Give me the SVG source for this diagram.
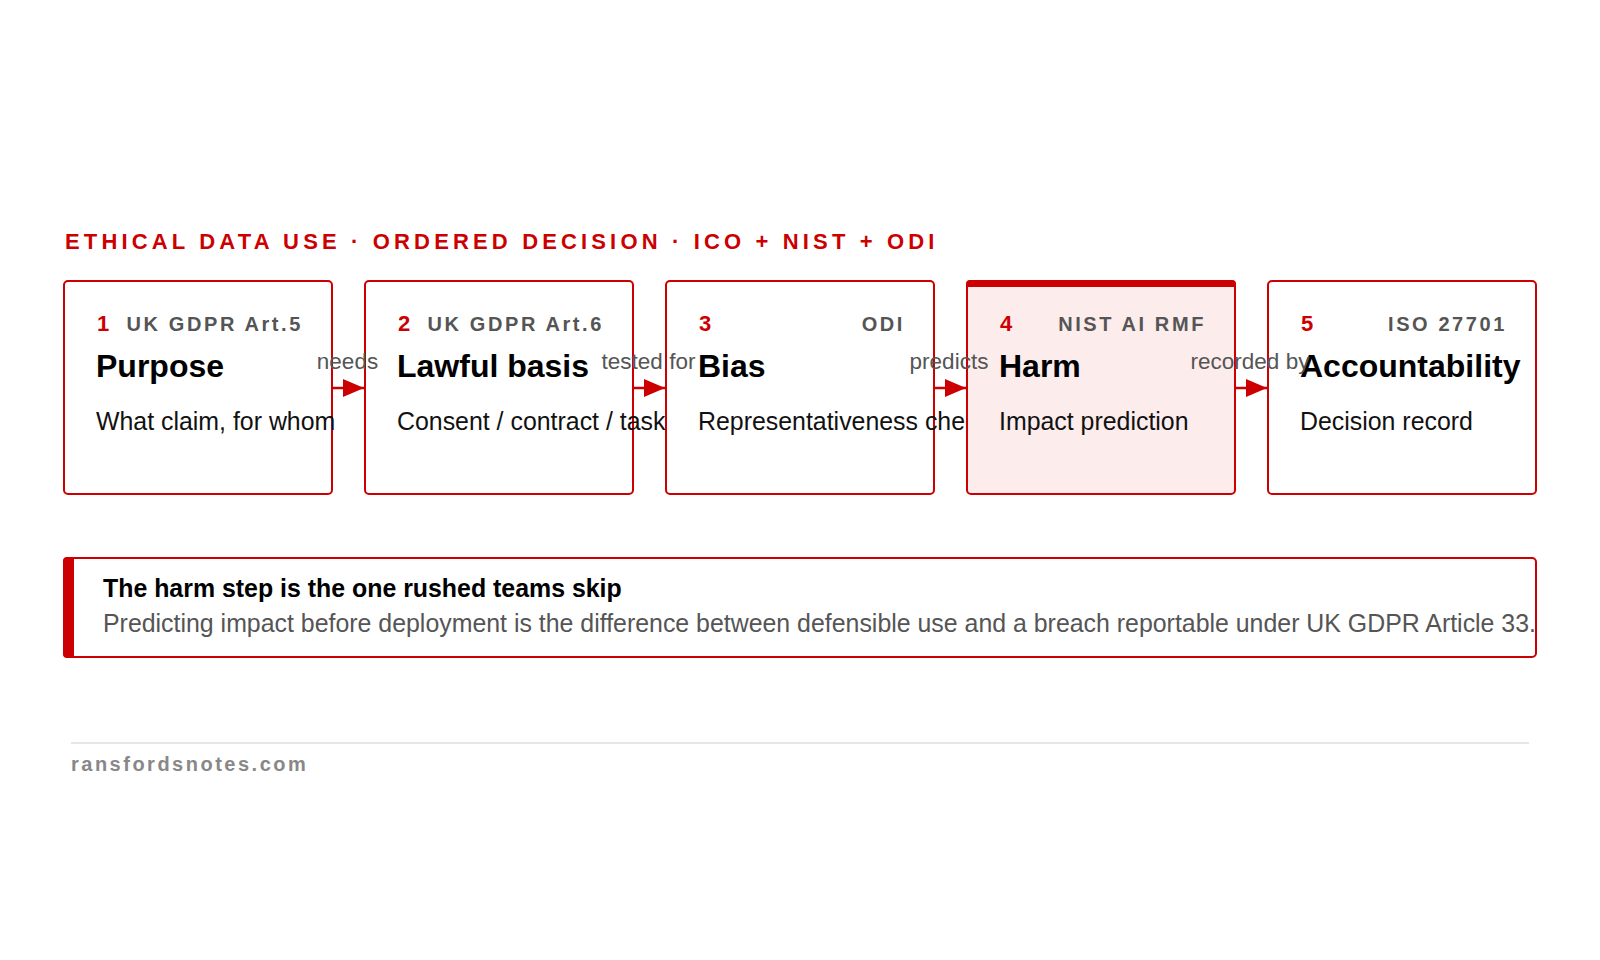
<svg xmlns="http://www.w3.org/2000/svg" width="1600" height="960" viewBox="0 0 1600 960">
<style>
  text { font-family: "Liberation Sans", Arial, Helvetica, sans-serif; }
  .title { font-size: 22px; font-weight: bold; fill: #cc0000; letter-spacing: 4.15px; }
  .box { fill: #ffffff; stroke: #cc0000; stroke-width: 2; }
  .box-hot { fill: #fdecec; stroke: #cc0000; stroke-width: 2; }
  .num { font-size: 22px; font-weight: bold; fill: #cc0000; }
  .ref { font-size: 20px; font-weight: bold; fill: #555555; letter-spacing: 2.6px; text-anchor: end; }
  .name { font-size: 32px; font-weight: bold; fill: #000000; }
  .desc { font-size: 24.9px; fill: #111111; }
  .edge { stroke: #cc0000; stroke-width: 2.5; fill: none; marker-end: url(#arrow); }
  .elabel { font-size: 22.5px; fill: #555555; text-anchor: middle; }
  .ctitle { font-size: 24.9px; font-weight: bold; fill: #000000; }
  .cbody { font-size: 24.9px; fill: #555555; }
  .foot { font-size: 20px; font-weight: bold; fill: #888888; letter-spacing: 2.5px; }
</style>
<defs>
  <marker id="arrow" markerUnits="userSpaceOnUse" markerWidth="21" markerHeight="18" viewBox="0 0 21 18" refX="21" refY="9" orient="auto">
    <path d="M0,0 L21,9 L0,18 Z" fill="#cc0000"/>
  </marker>
</defs>
<rect width="1600" height="960" fill="#ffffff"/>

<text class="title" x="65" y="249">ETHICAL DATA USE · ORDERED DECISION · ICO + NIST + ODI</text>

<g id="node-purpose">
  <rect class="box" x="64" y="281" width="268" height="213" rx="4"/>
  <text class="num" x="97" y="331">1</text>
  <text class="ref" x="303" y="331">UK GDPR Art.5</text>
  <text class="name" x="96" y="377">Purpose</text>
  <text class="desc" x="96" y="430">What claim, for whom</text>
</g>
<g id="node-lawful">
  <rect class="box" x="365" y="281" width="268" height="213" rx="4"/>
  <text class="num" x="398" y="331">2</text>
  <text class="ref" x="604" y="331">UK GDPR Art.6</text>
  <text class="name" x="397" y="377">Lawful basis</text>
  <text class="desc" x="397" y="430">Consent / contract / task</text>
</g>
<g id="node-bias">
  <rect class="box" x="666" y="281" width="268" height="213" rx="4"/>
  <text class="num" x="699" y="331">3</text>
  <text class="ref" x="905" y="331">ODI</text>
  <text class="name" x="698" y="377">Bias</text>
  <text class="desc" x="698" y="430">Representativeness check</text>
</g>
<g id="node-harm">
  <rect class="box-hot" x="967" y="281" width="268" height="213" rx="4"/>
  <path d="M966,287 V284 A4,4 0 0 1 970,280 H1232 A4,4 0 0 1 1236,284 V287 Z" fill="#cc0000"/>
  <text class="num" x="1000" y="331">4</text>
  <text class="ref" x="1206" y="331">NIST AI RMF</text>
  <text class="name" x="999" y="377">Harm</text>
  <text class="desc" x="999" y="430">Impact prediction</text>
</g>
<g id="node-accountability">
  <rect class="box" x="1268" y="281" width="268" height="213" rx="4"/>
  <text class="num" x="1301" y="331">5</text>
  <text class="ref" x="1507" y="331">ISO 27701</text>
  <text class="name" x="1300" y="377">Accountability</text>
  <text class="desc" x="1300" y="430">Decision record</text>
</g>

<g id="connectors">
  <line class="edge" x1="333" y1="388" x2="364" y2="388"/>
  <text class="elabel" x="347.5" y="369">needs</text>
  <line class="edge" x1="634" y1="388" x2="665" y2="388"/>
  <text class="elabel" x="648.5" y="369">tested for</text>
  <line class="edge" x1="935" y1="388" x2="966" y2="388"/>
  <text class="elabel" x="949" y="369">predicts</text>
  <line class="edge" x1="1236" y1="388" x2="1267" y2="388"/>
  <text class="elabel" x="1250" y="369">recorded by</text>
</g>

<g id="callout">
  <rect x="64" y="558" width="1472" height="99" rx="4" fill="#ffffff" stroke="#cc0000" stroke-width="2"/>
  <path d="M67,557 H74 V658 H67 A4,4 0 0 1 63,654 V561 A4,4 0 0 1 67,557 Z" fill="#cc0000"/>
  <text class="ctitle" x="103" y="597">The harm step is the one rushed teams skip</text>
  <text class="cbody" x="103" y="632">Predicting impact before deployment is the difference between defensible use and a breach reportable under UK GDPR Article 33.</text>
</g>

<g id="footer">
  <line x1="71" y1="743" x2="1529" y2="743" stroke="#e6e6e6" stroke-width="2"/>
  <text class="foot" x="71" y="771">ransfordsnotes.com</text>
</g>
</svg>
